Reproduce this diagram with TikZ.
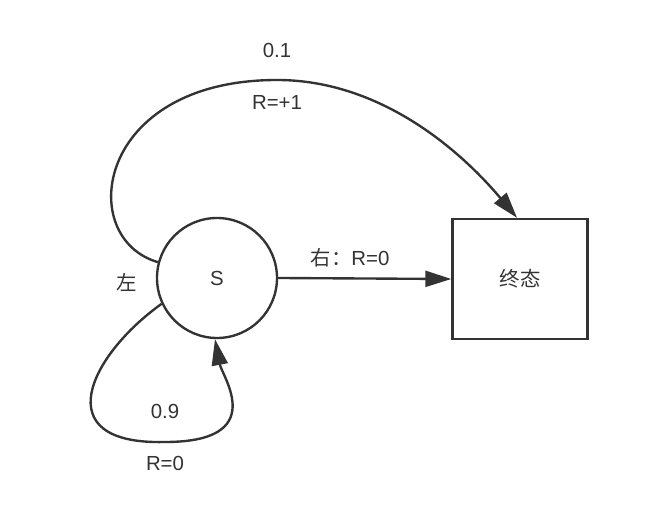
\documentclass[tikz,border=0pt]{standalone}
\usepackage{fontspec}
\setmainfont{Liberation Sans}
\newfontfamily\cjk{Noto Sans CJK SC}
\usepackage{xcolor}
\usepackage{tikz}
\usetikzlibrary{arrows.meta}
\definecolor{ink}{HTML}{333333}

\begin{document}
\begin{tikzpicture}[x=0.02cm, y=-0.02cm,
  font=\fontsize{11.6}{14}\selectfont, text=ink,
  link/.style={draw=ink, line width=1.35pt, -{Triangle[length=5.2mm, width=3.2mm]}},
  lab/.style={inner sep=1pt}]
\useasboundingbox (0,0) rectangle (662,516);
% ---- states ----
\node[draw=ink, line width=1.35pt, circle, minimum size=120*0.02cm, inner sep=0pt]
  (S) at (217,278) {S};
\node[draw=ink, line width=1.35pt, rectangle, minimum width=135*0.02cm,
  minimum height=120*0.02cm, inner sep=0pt] (T) at (520,279) {\cjk 终态};
% ---- right: straight to terminal ----
\draw[link] (S.east) -- (T.west);
\node[lab] (rlab) at (350,258) {{\cjk 右：}R=0};
% ---- left, 0.1: over the top ----
\draw[link] (S.165) .. controls (75,238) and (95,80) .. (277,80)
  .. controls (380,80) and (460,150) .. ([xshift=-3*0.02cm]T.north);
\node[lab] (ptop) at (277,50) {0.1};
\node[lab] (rtop) at (277,102) {R=+1};
\node[lab] (left) at (127,282) {\cjk 左};
% ---- left, 0.9: back to S ----
\draw[link] (S.205) .. controls (90,355) and (45,445) .. (165,442)
  .. controls (270,442) and (222,376) .. ([xshift=-2*0.02cm]S.south);
\node[lab] (pself) at (165,411) {0.9};
\node[lab] (rself) at (165,463) {R=0};
\end{tikzpicture}
\end{document}
